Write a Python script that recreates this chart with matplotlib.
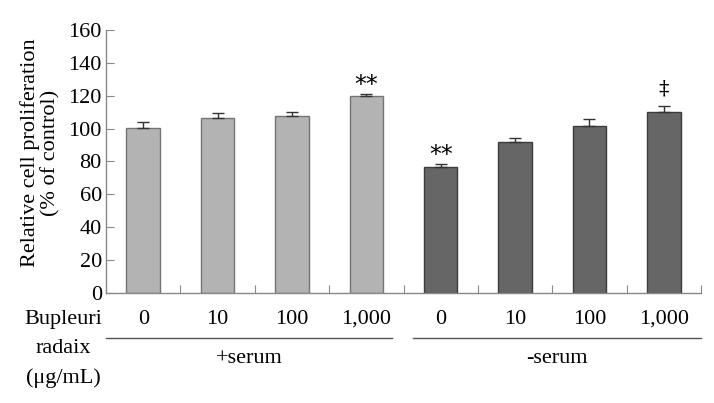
import matplotlib
matplotlib.use('Agg')
import matplotlib.pyplot as plt
import matplotlib.transforms as mtransforms

# data
doses = ['0', '10', '100', '1,000', '0', '10', '100', '1,000']
values = [100.2, 106.3, 107.5, 120.0, 76.4, 91.6, 101.6, 110.1]
errors = [3.7, 3.0, 2.8, 1.2, 2.3, 2.5, 4.2, 3.5]
groups = ['+serum', '-serum']
marks = ['', '', '', '**', '**', '', '', '\u2021']

light = '#b3b3b3'
dark = '#666666'
colors = [light] * 4 + [dark] * 4
edges = ['#747474'] * 4 + ['#3c3c3c'] * 4

plt.rcParams['font.family'] = ['Liberation Serif', 'DejaVu Serif']
FS = 16

fig = plt.figure(figsize=(7.14, 4.03), dpi=100)
ax = fig.add_axes([0.1485, 0.273, 0.8333, 0.6526])

x = list(range(len(values)))
ax.bar(x, values, width=0.45, color=colors, edgecolor=edges, linewidth=1.0, zorder=2)
ax.errorbar(x, values, yerr=[[0] * len(errors), errors], fmt='none',
            ecolor='#333333', elinewidth=1.0, capsize=4.5, capthick=1.0, zorder=3)

for xi, v, e, m in zip(x, values, errors, marks):
    if m == '**':
        ax.text(xi, v + e - 2.0, m, ha='center', va='bottom', fontsize=17,
                family='DejaVu Sans')
    elif m:
        ax.text(xi, v + e + 4.5, m, ha='center', va='bottom', fontsize=15,
                family='DejaVu Serif')

ax.set_xlim(-0.5, 7.5)
ax.set_ylim(0, 160)
ax.set_yticks(range(0, 161, 20))
ax.tick_params(axis='y', direction='in', length=6, width=0.8, color='#888888',
               labelsize=FS, pad=3)
ax.set_xticks([i + 0.5 for i in range(8)])
ax.set_xticklabels([])
ax.tick_params(axis='x', direction='in', length=6, width=0.8, color='#888888')

for s in ['top', 'right']:
    ax.spines[s].set_visible(False)
for s in ['left', 'bottom']:
    ax.spines[s].set_color('#888888')
    ax.spines[s].set_linewidth(1.0)

ax.set_ylabel('Relative cell proliferation\n(% of control)', fontsize=FS,
              linespacing=1.1)
ax.yaxis.label.set_va('center')
ax.yaxis.set_label_coords(-0.111, 0.532)

# category labels below the axis
trans = mtransforms.blended_transform_factory(ax.transData, ax.transAxes)
for xi, d in zip(x, doses):
    ax.text(xi, -0.099, d, transform=trans, ha='center', va='center', fontsize=FS)

ax.text(-1.07, -0.099, 'Bupleuri', transform=trans, ha='center', va='center', fontsize=FS)
ax.text(-1.07, -0.21, 'radaix', transform=trans, ha='center', va='center', fontsize=FS)
ax.text(-1.07, -0.325, '(\u03bcg/mL)', transform=trans, ha='center', va='center', fontsize=FS)

spans = [(-0.5, 3.34), (3.63, 7.5)]
for (a, b), g in zip(spans, groups):
    ax.plot([a, b], [-0.171, -0.171], transform=trans, color='#555555',
            linewidth=1.0, clip_on=False)
    ax.text((a + b) / 2, -0.25, g,
            transform=trans, ha='center', va='center', fontsize=FS)

fig.savefig('out.png', dpi=100)
